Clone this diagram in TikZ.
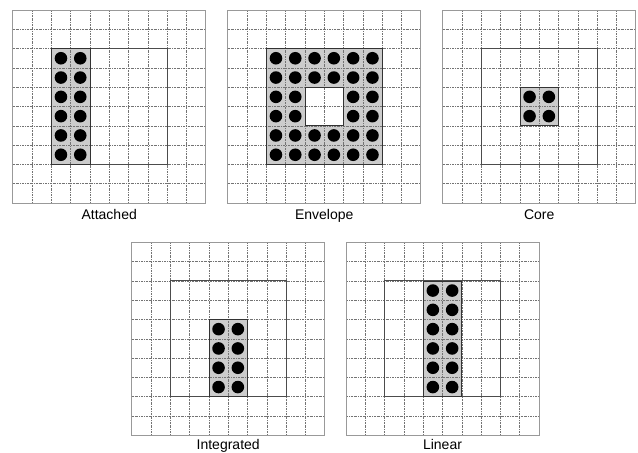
\documentclass[tikz,border=0pt]{standalone}
\usepackage{fontspec}
\setmainfont{Liberation Sans}
\usetikzlibrary{positioning}

% grid of 10 x 10 cells with the outer frame and the 6 x 6 site
\newcommand*{\cellgrid}{%
  \foreach \k in {1,...,9} {
    \draw[gridline] (\k,0) -- (\k,10);
    \draw[gridline] (0,\k) -- (10,\k);
  }
  \draw[panelframe] (0,0) rectangle (10,10);
  \draw[sitebox] (2,2) rectangle (8,8);
}
% one dot in every cell of columns #1..#2, rows #3..#4
\newcommand*{\blobs}[4]{%
  \foreach \c in {#1,...,#2}
    \foreach \r in {#3,...,#4}
      \fill (\c+0.5,\r+0.5) circle (6.3pt);
}

\begin{document}
\begin{tikzpicture}
[
    x = 19.3pt, y = -19.3pt,
    gridline/.style={black!55, line width = .5pt, dash pattern = on 2pt off 1pt on .6pt off 1pt},
    panelframe/.style={draw = gray!80, line width = 1pt},
    sitebox/.style={draw = black!70, line width = 1pt},
    coverfill/.style={fill = gray!40},
    coverline/.style={draw = black!80, line width = .7pt},
    panellabel/.style={font = \fontsize{14}{16}\selectfont, anchor = base},
]
\useasboundingbox (0pt,0pt) rectangle (638pt,-453pt);

% Attached
\begin{scope}[shift={(12.7pt,-10pt)}]
  \fill[coverfill] (2,2) rectangle (4,8);
  \cellgrid
  \draw[coverline] (2,2) rectangle (4,8);
  \blobs{2}{3}{2}{7}
  \node[panellabel, yshift=-16.3pt] (attached) at (5,10) {Attached};
\end{scope}

% Envelope
\begin{scope}[shift={(227.7pt,-10pt)}]
  \fill[coverfill] (2,2) rectangle (8,8);
  \fill[white] (4,4) rectangle (6,6);
  \cellgrid
  \draw[coverline] (2,2) rectangle (8,8);
  \draw[coverline] (4,4) rectangle (6,6);
  \blobs{2}{7}{2}{3}
  \blobs{2}{7}{6}{7}
  \blobs{2}{3}{4}{5}
  \blobs{6}{7}{4}{5}
  \node[panellabel, yshift=-16.3pt] (envelope) at (5,10) {Envelope};
\end{scope}

% Core
\begin{scope}[shift={(442.7pt,-10pt)}]
  \fill[coverfill] (4,4) rectangle (6,6);
  \cellgrid
  \draw[coverline] (4,4) rectangle (6,6);
  \blobs{4}{5}{4}{5}
  \node[panellabel, yshift=-16.3pt] (core) at (5,10) {Core};
\end{scope}

% Integrated
\begin{scope}[shift={(131.7pt,-242.3pt)}]
  \fill[coverfill] (4,4) rectangle (6,8);
  \cellgrid
  \draw[coverline] (4,4) rectangle (6,8);
  \blobs{4}{5}{4}{7}
  \node[panellabel, yshift=-14.3pt] (integrated) at (5,10) {Integrated};
\end{scope}

% Linear
\begin{scope}[shift={(346pt,-242.3pt)}]
  \fill[coverfill] (4,2) rectangle (6,8);
  \cellgrid
  \draw[coverline] (4,2) rectangle (6,8);
  \blobs{4}{5}{2}{7}
  \node[panellabel, yshift=-14.3pt] (linear) at (5,10) {Linear};
\end{scope}
\end{tikzpicture}
\end{document}
